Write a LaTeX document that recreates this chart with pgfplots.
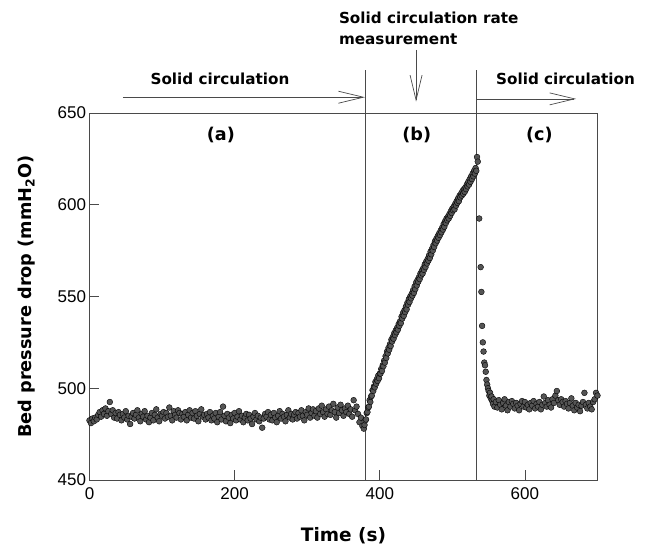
\documentclass[border=0pt]{standalone}
\usepackage{pgfplots}
\pgfplotsset{compat=1.18}
\usepackage{fontspec}
\setmainfont{Liberation Sans}
\newfontfamily\bfont{DejaVu Sans}
\usetikzlibrary{arrows.meta}
\pgfplotstableread{
t p
0 482.5
2 481.0
4 483.5
6 482.0
8 484.0
10 483.0
12 485.5
14 487.0
16 484.5
18 488.0
20 486.0
22 489.0
24 485.0
26 487.5
28 492.5
30 486.0
32 488.0
34 484.0
36 486.5
38 483.5
40 487.0
42 485.5
44 482.5
46 486.0
48 484.0
50 487.5
52 483.0
54 485.0
56 480.5
58 484.5
60 486.5
62 483.5
64 485.5
66 488.0
68 484.0
70 482.0
72 486.0
74 484.5
76 487.5
78 483.0
80 485.0
82 481.5
84 484.0
86 486.5
88 482.5
90 485.5
92 488.5
94 484.0
96 482.0
98 486.0
100 485.0
102 487.0
104 483.5
106 486.5
108 484.5
110 489.5
112 485.0
114 482.5
116 487.5
118 485.5
120 484.0
122 488.0
124 486.5
126 483.0
128 486.0
130 484.5
132 487.0
134 482.5
136 485.5
138 488.0
140 484.0
142 486.5
144 483.5
146 487.5
148 485.0
150 482.0
152 486.0
154 488.5
156 484.5
158 485.5
160 483.0
162 486.0
164 484.0
166 487.0
168 482.5
170 485.0
172 483.5
174 486.5
176 481.5
178 484.5
180 487.0
182 483.0
184 490.0
186 485.0
188 482.0
190 486.0
192 484.0
194 481.0
196 485.5
198 483.5
200 486.5
202 482.5
204 484.5
206 487.5
208 483.0
210 485.0
212 481.5
214 484.0
216 486.0
218 482.5
220 485.5
222 483.5
224 480.5
226 484.5
228 486.5
230 483.0
232 485.0
234 482.0
236 484.0
238 478.5
240 483.5
242 486.0
244 484.5
246 487.0
248 483.0
250 485.5
252 482.5
254 486.5
256 484.0
258 481.5
260 485.0
262 487.5
264 483.5
266 486.0
268 484.5
270 482.0
272 485.5
274 488.0
276 484.0
278 486.0
280 483.0
282 485.5
284 487.0
286 483.5
288 486.5
290 484.5
292 488.0
294 485.0
296 482.5
298 487.0
300 485.5
302 489.0
304 484.0
306 486.5
308 488.5
310 485.0
312 487.5
314 484.0
316 489.0
318 486.0
320 490.5
322 487.0
324 484.5
326 488.5
328 486.0
330 490.0
332 485.5
334 488.0
336 491.5
338 487.0
340 484.0
342 489.5
344 486.5
346 491.0
348 488.0
350 485.0
352 489.0
354 487.0
356 490.5
358 486.0
360 488.5
362 484.5
364 493.5
366 488.0
368 490.0
370 486.0
372 481.5
374 484.0
376 479.5
378 478.0
}\phaseA
\pgfplotstableread{
t p
379 480.0
380 482.5
381 483.0
382 486.5
383 487.0
384 489.5
385 490.0
386 493.5
387 492.5
388 495.5
389 496.0
390 499.0
391 498.5
392 501.0
393 500.5
394 503.5
395 502.5
396 505.0
397 504.0
398 507.0
399 505.5
400 508.0
401 508.0
402 510.5
403 509.5
404 512.5
405 512.0
406 515.0
407 514.0
408 517.5
409 516.5
410 520.0
411 519.0
412 522.0
413 521.0
414 524.0
415 523.0
416 526.5
417 525.5
418 528.0
419 527.0
420 530.0
421 529.0
422 531.5
423 530.5
424 533.0
425 532.0
426 535.0
427 534.0
428 536.5
429 535.5
430 539.0
431 538.0
432 541.0
433 539.5
434 542.5
435 541.5
436 544.5
437 543.0
438 546.5
439 545.5
440 548.5
441 547.0
442 550.0
443 549.0
444 551.5
445 550.5
446 553.5
447 552.0
448 555.5
449 554.0
450 557.5
451 556.0
452 559.0
453 558.0
454 560.5
455 559.5
456 562.5
457 561.5
458 564.0
459 562.5
460 565.5
461 564.5
462 567.5
463 566.0
464 569.0
465 568.0
466 570.5
467 569.5
468 572.5
469 571.0
470 574.5
471 573.0
472 576.0
473 575.0
474 578.0
475 577.0
476 580.0
477 579.0
478 581.5
479 580.5
480 583.0
481 582.0
482 584.5
483 583.5
484 586.0
485 585.0
486 587.5
487 586.5
488 589.5
489 588.0
490 591.0
491 590.0
492 592.5
493 591.5
494 593.5
495 592.5
496 595.0
497 594.0
498 596.5
499 595.5
500 598.0
501 597.0
502 599.0
503 597.5
504 600.5
505 599.5
506 602.0
507 601.0
508 603.5
509 602.0
510 605.0
511 604.0
512 606.0
513 605.0
514 607.5
515 606.0
516 608.5
517 607.0
518 609.5
519 608.5
520 611.0
521 610.0
522 612.5
523 611.0
524 614.0
525 612.5
526 615.5
527 614.0
528 617.0
529 615.5
530 618.5
531 617.0
532 620.0
533 618.5
}\phaseB
\pgfplotstableread{
t p
534 626.0
535 623.5
537 592.5
539 566.0
540 552.5
541 534.0
542 525.0
543 520.0
544 514.0
545 512.5
546 509.0
547 504.5
548 502.0
549 500.0
550 498.5
551 496.0
552 497.5
553 494.5
554 495.5
555 493.0
556 491.5
557 494.0
558 490.0
560 492.5
562 489.5
564 493.5
566 491.0
568 488.5
570 492.0
572 494.0
574 490.5
576 488.0
578 492.5
580 490.0
582 493.0
584 491.5
586 489.0
588 492.0
590 490.5
592 488.0
594 491.5
596 493.0
598 490.0
600 492.5
602 489.5
604 491.0
606 488.5
608 492.0
610 490.5
612 493.0
614 489.0
616 491.5
618 490.0
620 492.5
622 488.5
624 491.0
626 495.5
628 492.0
630 490.0
632 493.5
634 491.0
636 489.5
638 494.0
640 492.0
642 496.0
644 498.5
646 493.5
648 491.0
650 494.0
652 492.5
654 490.0
656 493.0
658 491.5
660 489.0
662 492.0
664 494.5
666 490.5
668 488.0
670 492.0
672 489.5
674 491.0
676 487.5
678 490.5
680 492.5
682 497.5
684 491.0
686 489.0
688 492.0
690 490.0
692 488.5
694 492.5
696 494.0
698 497.5
700 496.0
}\phaseC
\definecolor{axgray}{HTML}{4A4A4A}
\definecolor{dotfill}{HTML}{555555}
\begin{document}
\begin{tikzpicture}
\path[use as bounding box] (-89.5pt,-66pt) rectangle (561.5pt,480pt);
\begin{axis}[
  at={(0pt,0pt)}, anchor=south west,
  scale only axis, width=508pt, height=367pt,
  xmin=0, xmax=700, ymin=450, ymax=650,
  xtick={0,200,400,600}, ytick={450,500,550,600,650},
  xtick pos=lower, ytick pos=left,
  tick align=inside, major tick length=10pt,
  axis line style={axgray, line width=0.7pt},
  tick style={axgray, line width=0.7pt},
  ticklabel style={font=\fontsize{17}{20}\selectfont},
  xticklabel style={yshift=-4pt},
  /pgf/number format/assume math mode=true,
  xlabel={\bfont\bfseries\fontsize{18.5}{22}\selectfont Time (s)},
  xlabel style={at={(axis description cs:0.5,-0.153)}, anchor=center},
  ylabel={\bfont\bfseries\fontsize{17.7}{21}\selectfont Bed pressure drop (mmH\textsubscript{2}O)},
  ylabel style={at={(axis description cs:-0.124,0.5)}, anchor=center},
  clip=false,
]
\addplot[only marks, mark=*, mark size=2.9pt, mark options={fill=dotfill, draw=black, line width=0.4pt}] table[x=t, y=p] {\phaseA};
\addplot[only marks, mark=*, mark size=2.9pt, mark options={fill=dotfill, draw=black, line width=0.4pt}] table[x=t, y=p] {\phaseB};
\addplot[only marks, mark=*, mark size=2.9pt, mark options={fill=dotfill, draw=black, line width=0.4pt}] table[x=t, y=p] {\phaseC};
% separators and annotations
\draw[axgray, line width=0.7pt] (axis cs:379.5,450) -- (axis cs:379.5,673.5);
\draw[axgray, line width=0.7pt] (axis cs:533,450) -- (axis cs:533,673.5);
\draw[axgray, line width=0.7pt, -{Straight Barb[length=25pt,width=12pt]}] (axis cs:46,658.6) -- (axis cs:379.5,658.6);
\draw[axgray, line width=0.7pt, -{Straight Barb[length=25pt,width=12pt]}] (axis cs:450,684.4) -- (axis cs:450,656.2);
\draw[axgray, line width=0.7pt, -{Straight Barb[length=25pt,width=12pt]}] (axis cs:533,657.7) -- (axis cs:670.5,657.7);
\node[anchor=base, inner sep=0pt, font=\bfont\bfseries\fontsize{15.2}{18}\selectfont] at (axis cs:179.8,665.3) {Solid circulation};
\node[anchor=base, inner sep=0pt, font=\bfont\bfseries\fontsize{15.2}{18}\selectfont] at (axis cs:656,665.3) {Solid circulation};
\node[anchor=base west, inner sep=0pt, font=\bfont\bfseries\fontsize{15.2}{18}\selectfont] at (axis cs:343.6,698.6) {Solid circulation rate};
\node[anchor=base west, inner sep=0pt, font=\bfont\bfseries\fontsize{15.2}{18}\selectfont] at (axis cs:343.6,687.6) {measurement};
\node[inner sep=0pt, font=\bfont\bfseries\fontsize{17.6}{20}\selectfont] at (axis cs:181,638) {(a)};
\node[inner sep=0pt, font=\bfont\bfseries\fontsize{17.6}{20}\selectfont] at (axis cs:451,638) {(b)};
\node[inner sep=0pt, font=\bfont\bfseries\fontsize{17.6}{20}\selectfont] at (axis cs:620,638) {(c)};
\end{axis}
\end{tikzpicture}
\end{document}
